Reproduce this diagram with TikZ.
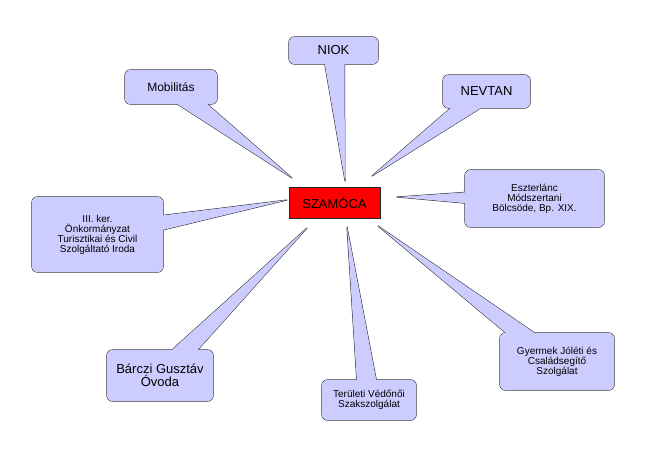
\documentclass[tikz,border=0pt]{standalone}
\usepackage{fontspec}
\setmainfont{Liberation Sans}
\usetikzlibrary{calc}
\definecolor{lav}{RGB}{204,204,255}
\tikzset{
    bubble/.style={inner sep=0pt},
    hub/.style={draw=black!85,fill=red,minimum width=91pt,minimum height=31pt,font=\fontsize{13}{15}\selectfont}
}
\begin{document}
\begin{tikzpicture}[x=1pt,y=-1pt]
    \useasboundingbox (0,0) rectangle (652,452);
    \node[hub] (szam) at (334.5,202.5) {SZAMÓCA};
    % bubbles: name / box / tip / text / size
    \foreach \nm/\xa/\ya/\xb/\yb/\tx/\ty/\txt/\fs in {
        niok/289/37/378/64/345/181/{NIOK}/13,
        nevtan/443/75/530/108/372/176/{NEVTAN}/13,
        mobil/125/70/217/104/292/178/{Mobilitás}/12,
        eszt/465/170/604/227/397/197/{Eszterlánc\\Módszertani\\Bölcsöde, Bp. XIX.}/10,
        ker/32/197/163/272/287/200/{III. ker.\\Önkormányzat\\Turisztikai és Civil\\Szolgáltató Iroda}/10,
        barczi/107/350/213/401/307/228/{Bárczi Gusztáv\\Óvoda}/13,
        terul/322/380/416/420/347/227/{Területi Védőnői\\Szakszolgálat}/10,
        gyer/500/333/614/390/378/226/{Gyermek Jóléti és\\Családsegítő\\Szolgálat}/10} {
        \coordinate (\nm-tip) at (\tx,\ty);
        \node[bubble,minimum width={(\xb-\xa)*1pt},minimum height={(\yb-\ya)*1pt}] (\nm) at ({(\xa+\xb)/2},{(\ya+\yb)/2}) {};
        \path ($(\nm.center)!11pt!90:(\nm-tip)$) coordinate (\nm-l)
              ($(\nm.center)!11pt!-90:(\nm-tip)$) coordinate (\nm-r);
        \draw[draw=black!85,line width=1pt,fill=lav,line join=round] (\nm-l) -- (\nm-tip) -- (\nm-r) -- cycle;
        \draw[draw=black!85,line width=1pt,fill=lav,rounded corners=6pt] (\nm.south west) rectangle (\nm.north east);
        \fill[lav] (\nm-l) -- (\nm-tip) -- (\nm-r) -- cycle;
        \fill[lav,rounded corners=6pt] (\nm.south west) rectangle (\nm.north east);
        \node[align=center,font=\fontsize{\fs}{\fs pt+2pt}\selectfont] at (\nm.center) {\txt};
    }
\end{tikzpicture}
\end{document}
